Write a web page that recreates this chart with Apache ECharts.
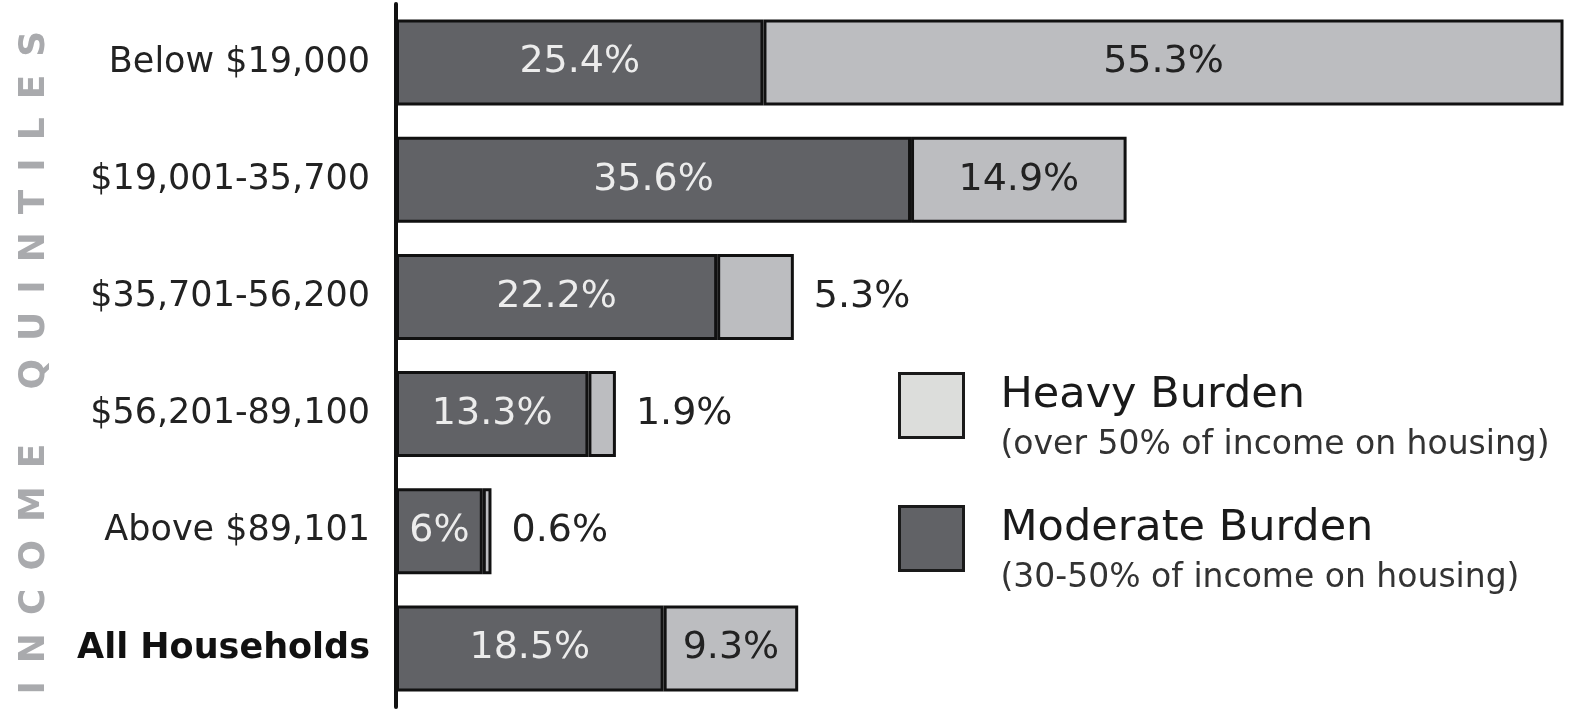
<!DOCTYPE html>
<html>
<head>
<meta charset="utf-8">
<script src="https://cdn.jsdelivr.net/npm/echarts@6/dist/echarts.min.js"></script>
<style>
html,body{margin:0;padding:0;background:#fff;}
#c{width:1591px;height:712px;}
</style>
</head>
<body>
<div id="c"></div>
<script>
const categories = ['Below $19,000', '$19,001-35,700', '$35,701-56,200', '$56,201-89,100', 'Above $89,101', 'All Households'];
const moderateBurden = [25.4, 35.6, 22.2, 13.3, 6, 18.5];
const heavyBurden = [55.3, 14.9, 5.3, 1.9, 0.6, 9.3];
const seriesNames = ['Moderate Burden', 'Heavy Burden'];
const legendSubtitles = {
  'Heavy Burden': '(over 50% of income on housing)',
  'Moderate Burden': '(30-50% of income on housing)'
};
const titleLetters = ['INCOME', 'QUINTILES'];

const SP = '\u2002';
const axisTitle = titleLetters.map(function (w) { return w.split('').join(SP); }).join(SP + SP + SP) + '\u2009\u2009';

const chart = echarts.init(document.getElementById('c'));
const labelFont = 'DejaVu Sans';

const catData = categories.map(function (c) {
  return c === 'All Households'
    ? { value: c, textStyle: { fontWeight: 'bold', color: '#111' } }
    : c;
});

const heavyData = heavyBurden.map(function (v) {
  return {
    value: v,
    label: v < 9
      ? { position: 'right', distance: 20, color: '#222' }
      : { position: 'inside', color: '#222' }
  };
});

function legendBox(name, color, top) {
  return {
    orient: 'vertical',
    left: 898,
    top: top,
    padding: 0,
    itemWidth: 64,
    itemHeight: 64,
    icon: 'rect',
    selectedMode: false,
    itemStyle: { borderColor: '#1a1a1a', borderWidth: 3 },
    data: [{ name: name, itemStyle: { color: color } }],
    formatter: function (n) {
      return '{t|' + n + '}\n{s|' + legendSubtitles[n] + '}';
    },
    textStyle: {
      fontFamily: labelFont,
      rich: {
        t: { fontSize: 43, color: '#1a1a1a', fontFamily: labelFont, lineHeight: 80, padding: [0, 0, 0, 32] },
        s: { fontSize: 33, color: '#333', fontFamily: labelFont, lineHeight: 20, padding: [0, 0, 0, 32] }
      }
    }
  };
}

chart.setOption({
  animation: false,
  backgroundColor: '#fff',
  grid: { left: 396, right: 0, top: 4, bottom: 5, outerBoundsMode: 'none', containLabel: false },
  xAxis: {
    type: 'value', min: 0, max: 82.6, show: false
  },
  yAxis: {
    type: 'category',
    inverse: true,
    data: catData,
    name: axisTitle,
    nameLocation: 'middle',
    nameGap: 343,
    nameRotate: 90,
    nameTextStyle: { color: '#a9aaad', fontSize: 36, fontWeight: 'bold', fontFamily: labelFont },
    axisLine: { show: true, lineStyle: { color: '#111', width: 4 } },
    axisTick: { show: false },
    axisLabel: { margin: 26, fontSize: 35, color: '#222', fontFamily: labelFont }
  },
  legend: [
    legendBox('Heavy Burden', '#dcdddb', 372),
    legendBox('Moderate Burden', '#616266', 505)
  ],
  series: [
    {
      name: seriesNames[0],
      type: 'bar',
      stack: 'burden',
      barWidth: 86,
      data: moderateBurden,
      itemStyle: { color: '#616266', borderColor: '#111', borderWidth: 3 },
      label: { show: true, position: 'inside', formatter: '{c}%', color: '#ececec', fontSize: 38, fontFamily: labelFont }
    },
    {
      name: seriesNames[1],
      type: 'bar',
      stack: 'burden',
      barWidth: 86,
      data: heavyData,
      itemStyle: { color: '#bcbdc0', borderColor: '#111', borderWidth: 3 },
      label: { show: true, formatter: '{c}%', fontSize: 38, fontFamily: labelFont }
    }
  ]
});
</script>
</body>
</html>
